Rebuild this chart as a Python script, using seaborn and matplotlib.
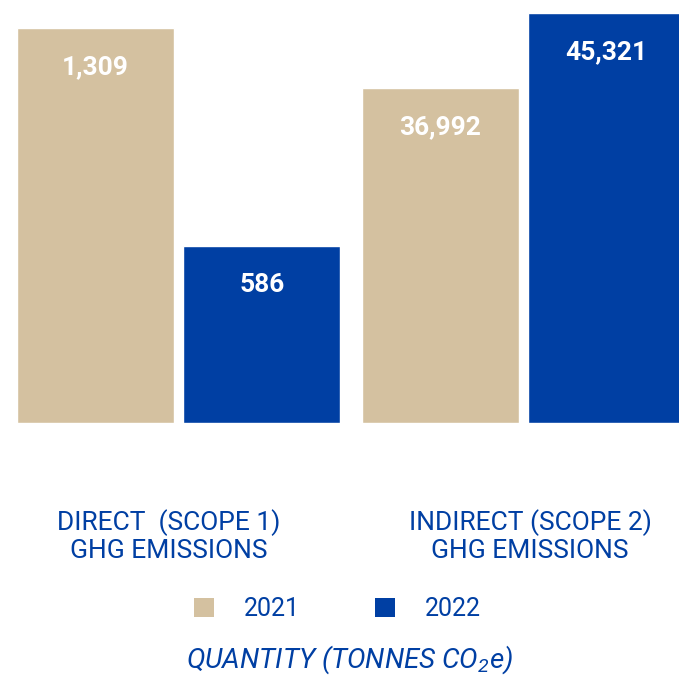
import matplotlib
matplotlib.use("Agg")
import matplotlib.pyplot as plt
from matplotlib.patches import Patch
import seaborn as sns
import pandas as pd

# Emissions by scope and year (tonnes CO2e)
years = ["2021", "2022"]
scope1_values = [1309, 586]
scope2_values = [36992, 45321]
scope_titles = ["DIRECT  (SCOPE 1)\nGHG EMISSIONS", "INDIRECT (SCOPE 2)\nGHG EMISSIONS"]
unit_title = "QUANTITY (TONNES CO$_2$e)"

TAN = "#D4C1A0"
BLUE = "#003FA3"
palette = dict(zip(years, [TAN, BLUE]))

sns.set_theme(style="white")
plt.rcParams["font.family"] = ["Roboto", "DejaVu Sans"]
plt.rcParams["mathtext.fontset"] = "custom"
plt.rcParams["mathtext.it"] = "Roboto:italic"
plt.rcParams["mathtext.rm"] = "Roboto:italic"

W, H = 679, 675
fig = plt.figure(figsize=(W / 100, H / 100), dpi=100)

def px_axes(left, top, width, height):
    return fig.add_axes([left / W, 1 - (top + height) / H, width / W, height / H])

base = 423
ax1 = px_axes(17, 28, 323, base - 28)
ax2 = px_axes(362, 13, 323, base - 13)

for ax, vals in [(ax1, scope1_values), (ax2, scope2_values)]:
    df = pd.DataFrame({"year": years, "value": vals})
    sns.barplot(data=df, x="year", y="value", hue="year", palette=palette,
                width=0.94, saturation=1, legend=False, ax=ax)
    ax.set_xlim(-0.47, 1.47)
    ax.set_ylim(0, max(vals))
    ax.axis("off")
    for i, v in enumerate(vals):
        ax.annotate(f"{v:,}", xy=(i, v), xytext=(0, -39), textcoords="offset pixels",
                    ha="center", va="center", color="white", fontsize=19,
                    fontweight="bold")

# Scope titles under each group
for cx, title in [(169, scope_titles[0]), (530, scope_titles[1])]:
    fig.text(cx / W, 1 - 536 / H, title, ha="center", va="center",
             color=BLUE, fontsize=19, linespacing=1.15)

handles = [Patch(facecolor=palette[y], edgecolor="none") for y in years]
fig.legend(handles, years, loc="center", bbox_to_anchor=(337 / W, 1 - 609 / H),
           ncol=2, frameon=False, fontsize=18, labelcolor=BLUE,
           handlelength=0.8, handleheight=0.8, handletextpad=1.2,
           columnspacing=3.0)

fig.text(350 / W, 1 - 660 / H, unit_title, ha="center", va="center",
         color=BLUE, fontsize=20, style="italic")

fig.savefig("out.png", dpi=100)
